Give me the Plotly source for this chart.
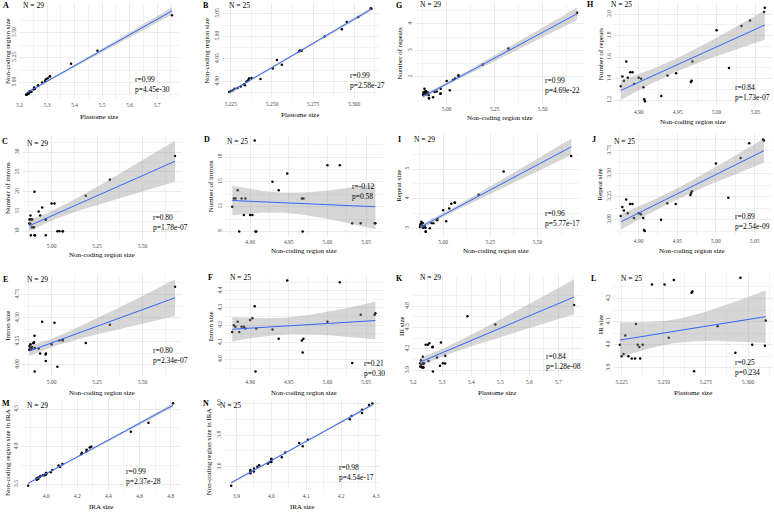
import numpy as np
import plotly.graph_objects as go

W, H = 774, 530
FONT = "Liberation Serif"

# ---------------- data (log10 values) ----------------
# 25-species set, ordered by non-coding region size
noncoding25 = [4.877, 4.879, 4.881, 4.884, 4.886, 4.889, 4.892, 4.894, 4.900, 4.903, 4.906, 4.907, 4.908,
               4.929, 4.937, 4.948, 4.967, 4.968, 4.969, 5.000, 5.016, 5.032, 5.043, 5.061, 5.062]
plastome25 = [5.2240, 5.2250, 5.2262, 5.2272, 5.2290, 5.2310, 5.2335, 5.2330, 5.2345, 5.2355, 5.2430, 5.2360, 5.2375,
              5.2505, 5.2560, 5.2530, 5.2665, 5.2680, 5.2670, 5.2820, 5.2925, 5.2955, 5.3025, 5.3105, 5.3100]
introns25 = [12, 13, 13, 14, 9, 13, 11, 13, 11, 11, 20, 9, 9, 15, 14, 16, 13, 9, 13, 17, 17, 10, 10, 10, 10]
intronsize25 = [4.16, 4.20, 4.19, 4.22, 4.16, 4.19, 4.19, 4.18, 4.23, 4.24, 4.31, 3.93, 4.18,
                4.175, 4.12, 4.46, 4.11, 4.04, 4.12, 4.22, 4.45, 3.98, 4.26, 4.26, 4.27]
repeats25 = [1.33, 1.42, 1.38, 1.56, 1.41, 1.46, 1.46, 1.35, 1.41, 1.40, 1.32, 1.21, 1.19,
             1.24, 1.43, 1.45, 1.37, 1.38, 1.56, 1.85, 1.50, 1.89, 1.94, 2.02, 2.06]
repeatsize25 = [3.04, 3.14, 3.10, 3.22, 3.07, 3.17, 3.17, 3.02, 3.07, 3.06, 3.02, 2.89, 2.88,
                3.00, 3.18, 3.17, 3.27, 3.29, 3.31, 3.61, 3.24, 3.67, 3.83, 3.87, 3.86]
ir25 = [4.00, 3.95, 3.96, 4.04, 3.95, 3.94, 4.09, 3.94, 4.00, 3.99, 4.26, 3.94, 4.00,
        4.26, 4.28, 4.03, 4.225, 3.885, 4.23, 4.08, 3.965, 4.29, 4.00, 4.105, 3.996]
ncira25 = [3.65, 3.57, 3.60, 3.69, 3.59, 3.56, 3.73, 3.58, 3.63, 3.62, 3.96, 3.57, 3.65,
           3.94, 3.99, 3.66, 3.90, 3.48, 3.92, 3.75, 3.61, 4.00, 3.64, 3.77, 3.63]

# four additional species of the 29-species set
plastome_extra = [5.228, 5.387, 5.483, 5.754]
noncoding_extra = [4.883, 5.188, 5.321, 5.679]
introns_extra = [12, 19, 23, 29]
intronsize_extra = [4.17, 4.233, 4.427, 4.833]
repeats_extra = [1.38, 2.47, 3.07, 4.42]
repeatsize_extra = [3.08, 4.13, 4.92, 5.44]
ir_extra = [3.98, 4.657, 4.544, 4.815]
ncira_extra = [3.62, 4.32, 4.20, 4.58]

plastome29 = plastome25 + plastome_extra
noncoding29 = noncoding25 + noncoding_extra
introns29 = introns25 + introns_extra
intronsize29 = intronsize25 + intronsize_extra
repeats29 = repeats25 + repeats_extra
repeatsize29 = repeatsize25 + repeatsize_extra
ir29 = ir25 + ir_extra
ncira29 = ncira25 + ncira_extra

stats_text = {
    "A": "r=0.99<br>p=4.45e-30", "B": "r=0.99<br>p=2.58e-27",
    "G": "r=0.99<br>p=4.69e-22", "H": "r=0.84<br>p=1.73e-07",
    "C": "r=0.80<br>p=1.78e-07", "D": "r=-0.12<br>p=0.58",
    "I": "r=0.96<br>p=5.77e-17", "J": "r=0.89<br>p=2.54e-09",
    "E": "r=0.80<br>p=2.34e-07", "F": "r=0.21<br>p=0.30",
    "K": "r=0.84<br>p=1.28e-08", "L": "r=0.25<br>p=0.234",
    "M": "r=0.99<br>p=2.37e-28", "N": "r=0.98<br>p=4.54e-17",
}

T975 = {25: 2.0687, 29: 2.0518}   # Student t quantiles (df = n-2)


def ticks(vals, fmt):
    return dict(tickvals=vals, ticktext=[fmt.format(v) for v in vals])


X_PL1 = ticks([5.2, 5.3, 5.4, 5.5, 5.6, 5.7], "{:.1f}")
X_PL2 = ticks([5.225, 5.25, 5.275, 5.3], "{:.3f}")
X_NC1 = ticks([5.0, 5.25, 5.5], "{:.2f}")
X_NC2 = ticks([4.90, 4.95, 5.00, 5.05], "{:.2f}")

panels = [
    # tag, x, y, box(x0,x1,y0,y1), xticks, yticks, xtitle, ytitle, N, tagpos, npos, rppos, xtitle_y, ytitle_x(, ytitle_center_y)
    ("A", plastome29, noncoding29, (16, 177, 3, 99), X_PL1, ticks([5.0, 5.25, 5.5], "{:.2f}"),
     "Plastome size", "Non-coding region size", 29, (3, 6), (18, 6), (131, 84.5), 116.7, 5, None),
    ("B", plastome25, noncoding25, (220, 377, 3, 98), X_PL2, ticks([4.90, 4.95, 5.00, 5.05], "{:.2f}"),
     "Plastome size", "Non-coding region size", 25, (204, 6), (225, 6), (346.7, 81), 115, 204, None),
    ("G", noncoding29, repeats29, (414, 584, 3, 103), X_NC1, ticks([2, 3, 4], "{:d}"),
     "Non-coding region size", "Number of repeats", 29, (398, 6), (417, 5), (541.7, 86), 118.3, 399, None),
    ("H", noncoding25, repeats25, (613, 772, 3, 106), X_NC2, ticks([1.2, 1.4, 1.6, 1.8, 2.0], "{:.1f}"),
     "Non-coding region size", "Number of repeats", 25, (590, 5), (608, 5), (733, 93), 121.7, 600, None),
    ("C", noncoding29, introns29, (19, 180, 136, 240), X_NC1, ticks([10, 15, 20, 25, 30], "{:d}"),
     "Non-coding region size", "Number of introns", 29, (2, 141), (22, 144), (148.3, 222.5), 255, 5, None),
    ("D", noncoding25, introns25, (223, 381, 136, 236), X_NC2, ticks([9, 12, 15, 18], "{:d}"),
     "Non-coding region size", "Number of introns", 25, (205, 140), (223, 141), (348.3, 191), 251, 209, None),
    ("I", noncoding29, repeatsize29, (411, 578, 134, 236.5), X_NC1, ticks([3, 4, 5], "{:d}"),
     "Non-coding region size", "Repeat size", 29, (398, 140), (411, 140), (541.7, 218.5), 251, 398, None),
    ("J", noncoding25, repeatsize25, (613, 771, 134, 235.5), X_NC2, ticks([3.0, 3.25, 3.5, 3.75], "{:.2f}"),
     "Non-coding region size", "Repeat size", 25, (593, 140), (611, 141), (733.3, 221), 251, 599, None),
    ("E", noncoding29, intronsize29, (19, 180, 275, 376), X_NC1, ticks([4.0, 4.25, 4.5, 4.75], "{:.2f}"),
     "Non-coding region size", "Intron size", 29, (3, 279), (22, 279), (148.3, 355), 393, 5, None),
    ("F", noncoding25, intronsize25, (223, 381, 276, 376), X_NC2, ticks([4.0, 4.1, 4.2, 4.3, 4.4], "{:.1f}"),
     "Non-coding region size", "Intron size", 25, (208, 277), (226, 277), (360, 368), 393, 209, None),
    ("K", plastome29, ir29, (411, 581, 275, 376), X_PL1, ticks([3.9, 4.2, 4.5, 4.8], "{:.1f}"),
     "Plastome size", "IR size", 29, (398, 278), (417, 277), (543.3, 361), 393, 400, None),
    ("L", plastome25, ir25, (612, 773, 273, 376), X_PL2, ticks([3.9, 4.0, 4.1, 4.2], "{:.1f}"),
     "Plastome size", "IR size", 25, (593, 278), (618, 278), (733.3, 367.5), 393, 600, None),
    ("M", ir29, ncira29, (18, 178, 399, 490), ticks([4.0, 4.2, 4.4, 4.6, 4.8], "{:.1f}"), ticks([3.5, 4.0, 4.5], "{:.1f}"),
     "IRA size", "Non-coding region size in IRA", 29, (3, 403), (22, 405), (121, 476), 507, 5, 452),
    ("N", ir25, ncira25, (222, 378, 399, 490), ticks([3.9, 4.0, 4.1, 4.2, 4.3], "{:.1f}"), ticks([3.6, 3.8, 4.0], "{:.1f}"),
     "IRA size", "Non-coding region size in IRA", 25, (204, 403), (216, 405), (335, 472), 507, 207, 452),
]


def px_x(v):
    return v / W


def px_y(v):
    return 1 - v / H


def minor_of(vals):
    step = vals[1] - vals[0]
    return [vals[0] - step / 2] + [(a + b) / 2 for a, b in zip(vals[:-1], vals[1:])] + [vals[-1] + step / 2]


fig = go.Figure()
annotations = []
layout_axes = {}

for i, (tag, xs_, ys_, box, xt, yt, xtitle, ytitle, n, tagpos, npos, rppos, xty, ytx, ytc) in enumerate(panels, start=1):
    x = np.array(xs_, dtype=float)
    y = np.array(ys_, dtype=float)
    xa = "x" if i == 1 else f"x{i}"
    ya = "y" if i == 1 else f"y{i}"

    # linear model with 95% confidence band (geom_smooth(method = "lm"))
    slope, icpt = np.polyfit(x, y, 1)
    grid = np.linspace(x.min(), x.max(), 80)
    fit = icpt + slope * grid
    resid = y - (icpt + slope * x)
    s = np.sqrt(np.sum(resid ** 2) / (len(x) - 2))
    sxx = np.sum((x - x.mean()) ** 2)
    se = s * np.sqrt(1 / len(x) + (grid - x.mean()) ** 2 / sxx)
    tq = T975[len(x)]
    upper, lower = fit + tq * se, fit - tq * se

    fig.add_trace(go.Scatter(x=x, y=y, mode="markers", marker=dict(color="black", size=2.5),
                             xaxis=xa, yaxis=ya, showlegend=False, hoverinfo="skip"))
    fig.add_trace(go.Scatter(x=np.concatenate([grid, grid[::-1]]), y=np.concatenate([upper, lower[::-1]]),
                             fill="toself", fillcolor="rgba(153,153,153,0.4)", line=dict(width=0),
                             mode="lines", xaxis=xa, yaxis=ya, showlegend=False, hoverinfo="skip"))
    fig.add_trace(go.Scatter(x=grid, y=fit, mode="lines", line=dict(color="#3366FF", width=1),
                             xaxis=xa, yaxis=ya, showlegend=False, hoverinfo="skip"))

    xspan = x.max() - x.min()
    xr = [x.min() - 0.05 * xspan, x.max() + 0.05 * xspan]
    ylo = min(y.min(), lower.min())
    yhi = max(y.max(), upper.max())
    yspan = yhi - ylo
    yr = [ylo - 0.05 * yspan, yhi + 0.05 * yspan]

    x0, x1, y0, y1 = box
    common = dict(showgrid=True, gridcolor="#EBEBEB", gridwidth=0.7, zeroline=False, showline=False,
                  ticks="", tickfont=dict(family=FONT, size=5.5, color="#4D4D4D"))
    layout_axes["xaxis" if i == 1 else f"xaxis{i}"] = dict(
        domain=[px_x(x0), px_x(x1)], anchor=ya, range=xr, **xt, **common,
        minor=dict(showgrid=True, gridcolor="#F3F3F3", gridwidth=0.4, tickvals=minor_of(xt["tickvals"])),
        ticklabelstandoff=1)
    layout_axes["yaxis" if i == 1 else f"yaxis{i}"] = dict(
        domain=[px_y(y1), px_y(y0)], anchor=xa, range=yr, **yt, **common, tickangle=-90,
        minor=dict(showgrid=True, gridcolor="#F3F3F3", gridwidth=0.4, tickvals=minor_of(yt["tickvals"])),
        ticklabelstandoff=1)

    ycenter = ytc if ytc is not None else (y0 + y1) / 2
    annotations.append(dict(x=px_x(tagpos[0]), y=px_y(tagpos[1]), xref="paper", yref="paper", text=f"<b>{tag}</b>",
                            showarrow=False, xanchor="center", yanchor="middle",
                            font=dict(family=FONT, size=8, color="black")))
    annotations.append(dict(x=px_x(npos[0]), y=px_y(npos[1]), xref="paper", yref="paper", text=f"N = {n}",
                            showarrow=False, xanchor="left", yanchor="middle",
                            font=dict(family=FONT, size=7.5, color="black")))
    annotations.append(dict(x=px_x(rppos[0]), y=px_y(rppos[1]), xref="paper", yref="paper", text=stats_text[tag],
                            showarrow=False, xanchor="left", yanchor="middle", align="left",
                            font=dict(family=FONT, size=7.5, color="black")))
    annotations.append(dict(x=px_x((x0 + x1) / 2), y=px_y(xty), xref="paper", yref="paper", text=xtitle,
                            showarrow=False, xanchor="center", yanchor="middle",
                            font=dict(family=FONT, size=7, color="black")))
    annotations.append(dict(x=px_x(ytx), y=px_y(ycenter), xref="paper", yref="paper", text=ytitle,
                            showarrow=False, xanchor="center", yanchor="middle", textangle=-90,
                            font=dict(family=FONT, size=7, color="black")))

fig.update_layout(width=W, height=H, margin=dict(l=0, r=0, t=0, b=0), paper_bgcolor="white",
                  plot_bgcolor="white", showlegend=False, annotations=annotations,
                  font=dict(family=FONT), **layout_axes)

fig.write_html("out.html")
